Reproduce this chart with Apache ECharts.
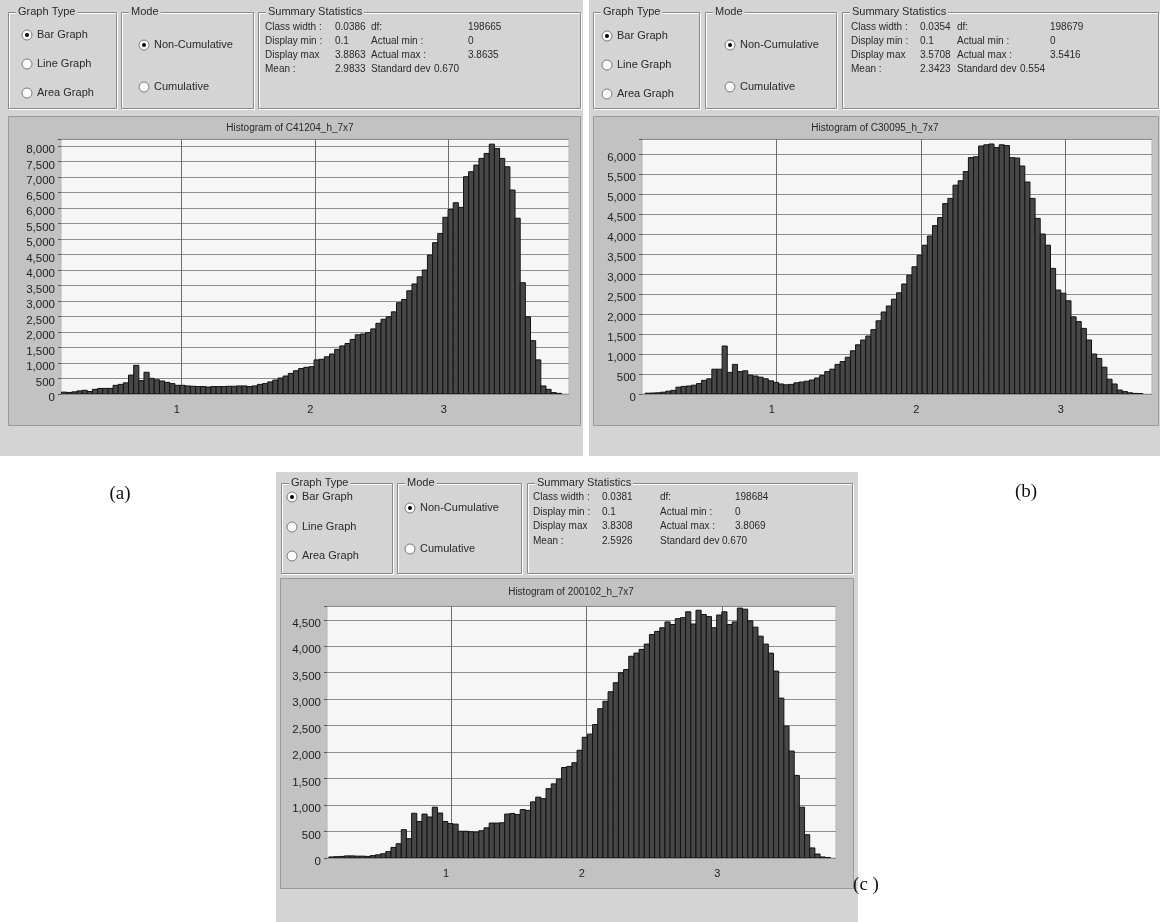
<!DOCTYPE html>
<html><head><meta charset="utf-8">
<script src="https://cdn.jsdelivr.net/npm/echarts@6/dist/echarts.min.js"></script>
<style>html,body{margin:0;padding:0;background:#fff}#c{width:1160px;height:922px}</style>
</head><body><div id="c"></div><script>
// ---------- DATA ----------
const countsA = [60,50,70,100,120,80,150,180,180,180,280,310,360,610,925,430,700,505,460,420,375,335,280,280,260,250,240,240,225,240,240,240,250,250,260,260,240,260,310,335,390,450,515,580,665,750,820,860,880,1100,1120,1200,1290,1440,1550,1630,1760,1910,1935,1980,2100,2280,2410,2490,2650,2945,3050,3330,3550,3780,4000,4480,4880,5180,5700,5955,6170,6020,7010,7170,7385,7600,7760,8060,7920,7600,7330,6580,5670,3590,2490,1720,1100,260,150,45,20];
const countsB = [20,25,30,45,70,90,170,190,200,220,260,340,380,620,620,1200,540,740,560,580,470,450,420,380,330,290,250,230,240,280,300,320,350,400,460,560,620,740,810,920,1080,1230,1350,1450,1610,1830,2050,2200,2370,2530,2750,2970,3180,3470,3720,3950,4210,4410,4760,4890,5220,5330,5560,5910,5930,6200,6230,6250,6160,6230,6210,5910,5900,5700,5300,4890,4390,4000,3720,3140,2600,2520,2330,1930,1810,1640,1350,1000,890,670,370,250,100,60,30,15,10];
const countsC = [20,25,30,40,40,35,35,30,45,60,80,120,200,270,535,365,845,690,830,775,960,850,690,650,640,505,505,495,490,515,570,660,660,665,830,840,820,915,900,1060,1150,1120,1310,1400,1490,1710,1730,1800,2035,2280,2340,2520,2820,2960,3140,3310,3500,3560,3810,3870,3940,4040,4220,4280,4350,4460,4410,4520,4540,4650,4420,4680,4600,4560,4350,4590,4650,4410,4460,4720,4700,4480,4360,4190,4040,3870,3530,3020,2490,2020,1560,960,440,190,75,20,10];
const binStartA = 0.1,  binWidthA = 0.0386;
const binStartB = 0.09, binWidthB = 0.0355;
const binStartC = 0.1,  binWidthC = 0.0381;
const xTickValues = [1, 2, 3];
const chartTitles = ['Histogram of C41204_h_7x7', 'Histogram of C30095_h_7x7', 'Histogram of 200102_h_7x7'];
const graphTypes = ['Bar Graph', 'Line Graph', 'Area Graph'];
const modes = ['Non-Cumulative', 'Cumulative'];
const statLabels1 = ['Class width :', 'Display min :', 'Display max', 'Mean :'];
const statLabels2 = ['df:', 'Actual min :', 'Actual max :', 'Standard dev'];
const statsA1 = ['0.0386', '0.1', '3.8863', '2.9833'];
const statsA2 = ['198665', '0', '3.8635', '0.670'];
const statsB1 = ['0.0354', '0.1', '3.5708', '2.3423'];
const statsB2 = ['198679', '0', '3.5416', '0.554'];
const statsC1 = ['0.0381', '0.1', '3.8308', '2.5926'];
const statsC2 = ['198684', '0', '3.8069', '0.670'];
const panelLetters = ['(a)', '(b)', '(c )'];

// ---------- LAYOUT ----------
const FONT = '"Liberation Sans", Arial, sans-serif';
const PANEL_BG = '#d4d4d4', FRAME_BG = '#c2c2c2', PLOT_BG = '#f6f6f6';
const panels = [
  {bg:[0,0,583,456], frame:[8,116,572,309], boxes:[[8,12,108,96],[121,12,132,96],[258,12,322,96]],
   gtX:27, gtY:[35,64,93], mX:144, mY:[45,87], rows:[27,41,55,69], cols:[265,335,371,468], sdX:434,
   title:[290,128], s1:statsA1, s2:statsA2},
  {bg:[589,0,571,456], frame:[593,116,565,309], boxes:[[593,12,106,96],[705,12,131,96],[842,12,316,96]],
   gtX:607, gtY:[36,65,94], mX:730, mY:[45,87], rows:[27,41,55,69], cols:[851,920,957,1050], sdX:1020,
   title:[875,128], s1:statsB1, s2:statsB2},
  {bg:[276,472,582,450], frame:[280,578,573,310], boxes:[[281,483,111,90],[397,483,124,90],[527,483,325,90]],
   gtX:292, gtY:[497,527,556], mX:410, mY:[508,549], rows:[497,512,526,541], cols:[533,602,660,735], sdX:722,
   title:[571,592], s1:statsC1, s2:statsC2}
];
const letterPos = [[120,494],[1026,492],[866,885]];

const graphics = [];
function txt(x, y, s, opt) {
  graphics.push(Object.assign({type:'text', x:x, y:y, z:20,
    style:Object.assign({text:s, font:'10px ' + FONT, fill:'#2a2a2a', verticalAlign:'middle', align:'left'}, opt||{})}));
}
function rect(x, y, w, h, style, z) {
  graphics.push({type:'rect', z:z===undefined?-10:z, shape:{x:x, y:y, width:w, height:h}, style:style});
}
function groupBox(b, label) {
  rect(b[0]+1.5, b[1]+1.5, b[2], b[3], {fill:'none', stroke:'#ffffff', lineWidth:1}, -5);
  rect(b[0]+0.5, b[1]+0.5, b[2], b[3], {fill:'none', stroke:'#8a8a8a', lineWidth:1}, -4);
  txt(b[0]+8, b[1], label, {font:'11px ' + FONT, backgroundColor:PANEL_BG, padding:[1,2,1,2]});
}
function radio(cx, cy, checked, label) {
  graphics.push({type:'circle', z:15, shape:{cx:cx, cy:cy, r:5}, style:{fill:'#fafafa', stroke:'#7a7a7a', lineWidth:1}});
  if (checked) graphics.push({type:'circle', z:16, shape:{cx:cx, cy:cy, r:2}, style:{fill:'#000'}});
  txt(cx + 10, cy, label, {font:'11px ' + FONT});
}
panels.forEach(function (p, k) {
  rect(p.bg[0], p.bg[1], p.bg[2], p.bg[3], {fill:PANEL_BG}, -20);
  rect(p.frame[0]+0.5, p.frame[1]+0.5, p.frame[2], p.frame[3], {fill:FRAME_BG, stroke:'#9a9a9a', lineWidth:1}, -15);
  groupBox(p.boxes[0], 'Graph Type');
  groupBox(p.boxes[1], 'Mode');
  groupBox(p.boxes[2], 'Summary Statistics');
  graphTypes.forEach(function (g, i) { radio(p.gtX, p.gtY[i], i === 0, g); });
  modes.forEach(function (m, i) { radio(p.mX, p.mY[i], i === 0, m); });
  for (let i = 0; i < 4; i++) {
    txt(p.cols[0], p.rows[i], statLabels1[i]);
    txt(p.cols[1], p.rows[i], p.s1[i]);
    txt(p.cols[2], p.rows[i], statLabels2[i]);
    txt(i === 3 ? p.sdX : p.cols[3], p.rows[i], p.s2[i]);
  }
  txt(p.title[0], p.title[1], chartTitles[k], {align:'center'});
});
panelLetters.forEach(function (l, i) {
  txt(letterPos[i][0], letterPos[i][1], l, {font:'19px "Liberation Serif", "Times New Roman", serif', fill:'#111', align:'center'});
});

// ---------- CHART ----------
const grids = [
  {left:61, top:139, width:508, height:255},
  {left:642, top:139, width:510, height:255},
  {left:327, top:606, width:509, height:252}
];
const xRanges = [[0.096, 3.901], [0.068, 3.597], [0.086, 3.837]];
const yMax = [8226, 6375, 4760];

function fmt(v) { return (v % 500 === 0) ? v.toLocaleString('en-US') : ''; }

const xAxes = grids.map(function (g, i) {
  return {gridIndex:i, type:'value', min:xRanges[i][0], max:xRanges[i][1],
    axisLine:{show:false},
    axisTick:{show:false, customValues:xTickValues},
    axisLabel:{customValues:xTickValues, color:'#222', fontSize:11, fontFamily:FONT, margin:10, padding:[0,10,0,0]},
    splitLine:{show:true, lineStyle:{color:'#6e6e6e', width:1}}};
});
const yAxes = grids.map(function (g, i) {
  return {gridIndex:i, type:'value', min:0, max:yMax[i], interval:500,
    axisLine:{show:false},
    axisTick:{show:true, length:3, lineStyle:{color:'#555'}},
    axisLabel:{formatter:fmt, color:'#222', fontSize:11.5, fontFamily:FONT, margin:6, verticalAlign:'top', padding:[-2,0,0,0]},
    splitLine:{show:true, lineStyle:{color:'#8e8e8e', width:1}}};
});

function hist(i, start, width, counts) {
  return {
    type:'custom', xAxisIndex:i, yAxisIndex:i, clip:true, z:5,
    data: counts.map(function (c, j) { return [start + j * width, start + (j + 1) * width, c]; }),
    encode:{x:[0,1], y:2},
    renderItem: function (params, api) {
      const p0 = api.coord([api.value(0), api.value(2)]);
      const p1 = api.coord([api.value(1), 0]);
      return {type:'rect', shape:{x:p0[0], y:p0[1], width:p1[0]-p0[0], height:p1[1]-p0[1]},
        style:{fill:'#474747', stroke:'#121212', lineWidth:1}};
    }
  };
}

const chart = echarts.init(document.getElementById('c'), null, {renderer:'canvas'});
chart.setOption({
  animation:false,
  backgroundColor:'#ffffff',
  grid: grids.map(function (g) { return Object.assign({show:true, backgroundColor:PLOT_BG, borderColor:'#b5b5b5', borderWidth:1}, g); }),
  xAxis: xAxes,
  yAxis: yAxes,
  series: [
    hist(0, binStartA, binWidthA, countsA),
    hist(1, binStartB, binWidthB, countsB),
    hist(2, binStartC, binWidthC, countsC)
  ],
  graphic: graphics
});
</script></body></html>
